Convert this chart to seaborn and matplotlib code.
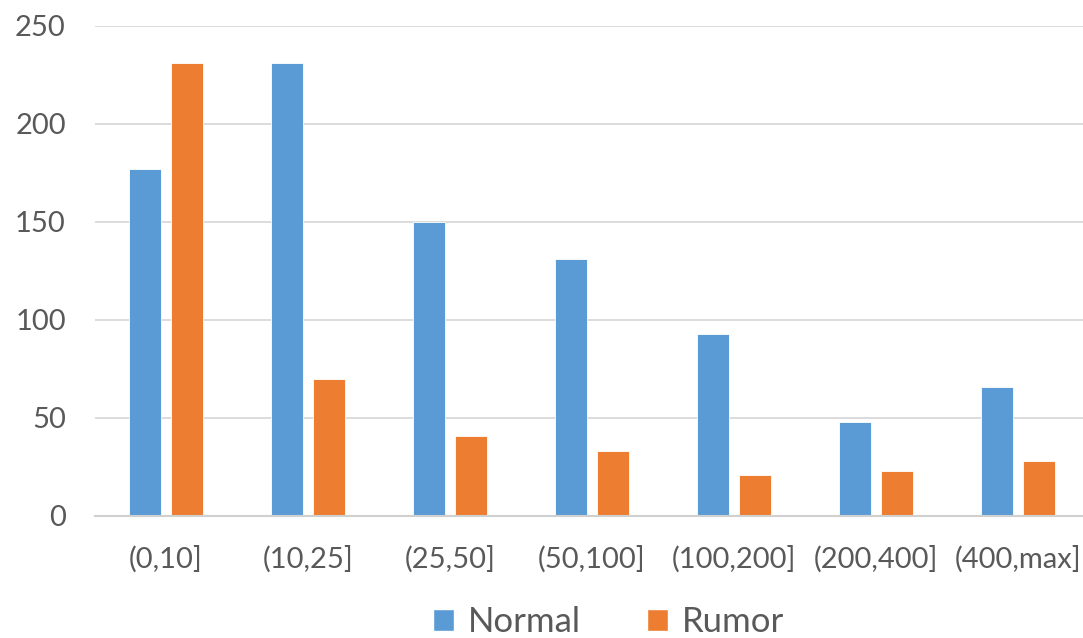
import matplotlib
matplotlib.use("Agg")
import matplotlib.pyplot as plt
import seaborn as sns
import pandas as pd
from matplotlib.patches import Patch

categories = ["(0,10]", "(10,25]", "(25,50]", "(50,100]", "(100,200]", "(200,400]", "(400,max]"]
normal = [177, 231, 150, 131, 93, 48, 66]
rumor = [231, 70, 41, 33, 21, 23, 28]
series_names = ["Normal", "Rumor"]
colors = ["#5B9BD5", "#ED7D31"]

df = pd.DataFrame({
    "bin": categories * 2,
    "count": normal + rumor,
    "type": [series_names[0]] * len(categories) + [series_names[1]] * len(categories),
})

sns.set_theme(style="white")
plt.rcParams["font.family"] = ["Lato", "DejaVu Sans"]

fig = plt.figure(figsize=(10.83, 6.38), dpi=100)
ax = fig.add_axes([95 / 1083, 1 - 516 / 638, 994 / 1083, 490 / 638])

sns.barplot(data=df, x="bin", y="count", hue="type", palette=colors,
            order=categories, hue_order=series_names, saturation=1,
            width=0.585, gap=0.23, ax=ax, legend=False,
            edgecolor="white", linewidth=0.6)

ax.set_xlim(-0.5, len(categories) - 0.5)
ax.set_ylim(0, 250)
ax.set_yticks(range(0, 251, 50))
ax.yaxis.grid(True, color="#D9D9D9", linewidth=1.3)
ax.set_axisbelow(True)
for side in ["left", "right", "top"]:
    ax.spines[side].set_visible(False)
ax.spines["bottom"].set_color("#D0D0D0")
ax.spines["bottom"].set_linewidth(1.5)
ax.set_xlabel("")
ax.set_ylabel("")
ax.tick_params(axis="both", length=0, labelsize=21, labelcolor="#595959")
ax.tick_params(axis="x", pad=21)
ax.tick_params(axis="y", pad=21)

handles = [Patch(facecolor=c, label=n) for c, n in zip(colors, series_names)]
fig.legend(handles=handles, loc="center", bbox_to_anchor=(0.562, 1 - 622 / 638),
           ncol=2, frameon=False, fontsize=25, labelcolor="#595959",
           handlelength=0.6, handleheight=0.6, handletextpad=0.4, columnspacing=1.9)

fig.savefig("out.png", dpi=100)
